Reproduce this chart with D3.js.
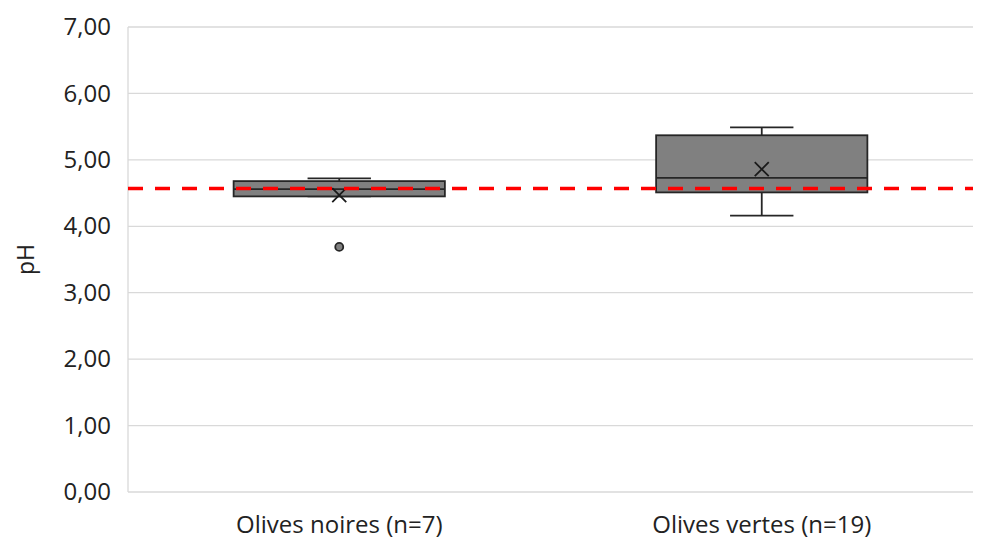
<!DOCTYPE html>
<html><head><meta charset="utf-8">
<script src="https://cdn.jsdelivr.net/npm/d3@7"></script>
<style>body{margin:0;background:#fff}svg{display:block}</style>
</head><body>
<svg id="c" width="988" height="542"></svg>
<script>
const categories = ["Olives noires (n=7)", "Olives vertes (n=19)"];
const whiskerLow = [4.45, 4.16];
const q1 = [4.45, 4.51];
const median = [4.56, 4.73];
const q3 = [4.68, 5.37];
const whiskerHigh = [4.72, 5.49];
const mean = [4.47, 4.86];
const outliers = [[3.69], []];
const threshold = 4.57;
const yTicks = [0, 1, 2, 3, 4, 5, 6, 7];

const svg = d3.select("#c");
const m = {left: 128, right: 15, top: 27, bottom: 50};
const W = 988, H = 542;
const x = d3.scaleBand().domain(categories).range([m.left, W - m.right]);
const y = d3.scaleLinear().domain([0, 7]).range([H - m.bottom, m.top]);
const fmt = d => d.toFixed(2).replace(".", ",");
const FF = "Open Sans, sans-serif";

svg.append("g").selectAll("line").data(yTicks).join("line")
  .attr("x1", m.left).attr("x2", W - m.right)
  .attr("y1", d => y(d)).attr("y2", d => y(d))
  .attr("stroke", "#d9d9d9").attr("stroke-width", 1.3);
svg.append("line").attr("x1", m.left).attr("x2", m.left)
  .attr("y1", y(7)).attr("y2", y(0)).attr("stroke", "#d9d9d9").attr("stroke-width", 1.3);

const yAxis = d3.axisLeft(y).tickValues(yTicks).tickFormat(fmt).tickSize(0).tickPadding(17);
const ga = svg.append("g").attr("transform", `translate(${m.left},0)`).call(yAxis);
ga.select(".domain").remove();
ga.selectAll("text").attr("font-family", FF).attr("font-size", 24).attr("fill", "#222");

const xAxis = d3.axisBottom(x).tickSize(0).tickPadding(24);
const gx = svg.append("g").attr("transform", `translate(0,${y(0)})`).call(xAxis);
gx.select(".domain").remove();
gx.selectAll("text").attr("font-family", FF).attr("font-size", 24).attr("fill", "#222");

svg.append("text").attr("transform", `translate(28,${y(3.5)}) rotate(-90)`)
  .attr("text-anchor", "middle").attr("dominant-baseline", "middle")
  .attr("font-family", FF).attr("font-size", 23).attr("fill", "#222").text("pH");

const bw = x.bandwidth() * 0.5, cw = x.bandwidth() * 0.15;
const st = "#262626";
categories.forEach((c, i) => {
  const cx = x(c) + x.bandwidth() / 2;
  const g = svg.append("g");
  g.append("line").attr("x1", cx).attr("x2", cx).attr("y1", y(whiskerHigh[i])).attr("y2", y(q3[i])).attr("stroke", st).attr("stroke-width", 1.8);
  g.append("line").attr("x1", cx).attr("x2", cx).attr("y1", y(whiskerLow[i])).attr("y2", y(q1[i])).attr("stroke", st).attr("stroke-width", 1.8);
  g.append("line").attr("x1", cx - cw/2).attr("x2", cx + cw/2).attr("y1", y(whiskerHigh[i])).attr("y2", y(whiskerHigh[i])).attr("stroke", st).attr("stroke-width", 1.8);
  g.append("line").attr("x1", cx - cw/2).attr("x2", cx + cw/2).attr("y1", y(whiskerLow[i])).attr("y2", y(whiskerLow[i])).attr("stroke", st).attr("stroke-width", 1.8);
  g.append("rect").attr("x", cx - bw/2).attr("width", bw)
    .attr("y", y(q3[i])).attr("height", y(q1[i]) - y(q3[i]))
    .attr("fill", "#808080").attr("stroke", st).attr("stroke-width", 1.8);
  g.append("line").attr("x1", cx - bw/2).attr("x2", cx + bw/2).attr("y1", y(median[i])).attr("y2", y(median[i])).attr("stroke", st).attr("stroke-width", 1.8);
  const my = y(mean[i]), s = 7;
  g.append("path").attr("d", `M${cx-s},${my-s}L${cx+s},${my+s}M${cx-s},${my+s}L${cx+s},${my-s}`)
    .attr("stroke", "#1a1a1a").attr("stroke-width", 1.8).attr("fill", "none");
  g.selectAll("circle").data(outliers[i]).join("circle")
    .attr("cx", cx).attr("cy", d => y(d)).attr("r", 4)
    .attr("fill", "#808080").attr("stroke", st).attr("stroke-width", 1.8);
});

svg.append("line").attr("x1", m.left).attr("x2", W - m.right)
  .attr("y1", y(threshold)).attr("y2", y(threshold))
  .attr("stroke", "#ff0000").attr("stroke-width", 3.5).attr("stroke-dasharray", "15,12");
</script>
</body></html>
